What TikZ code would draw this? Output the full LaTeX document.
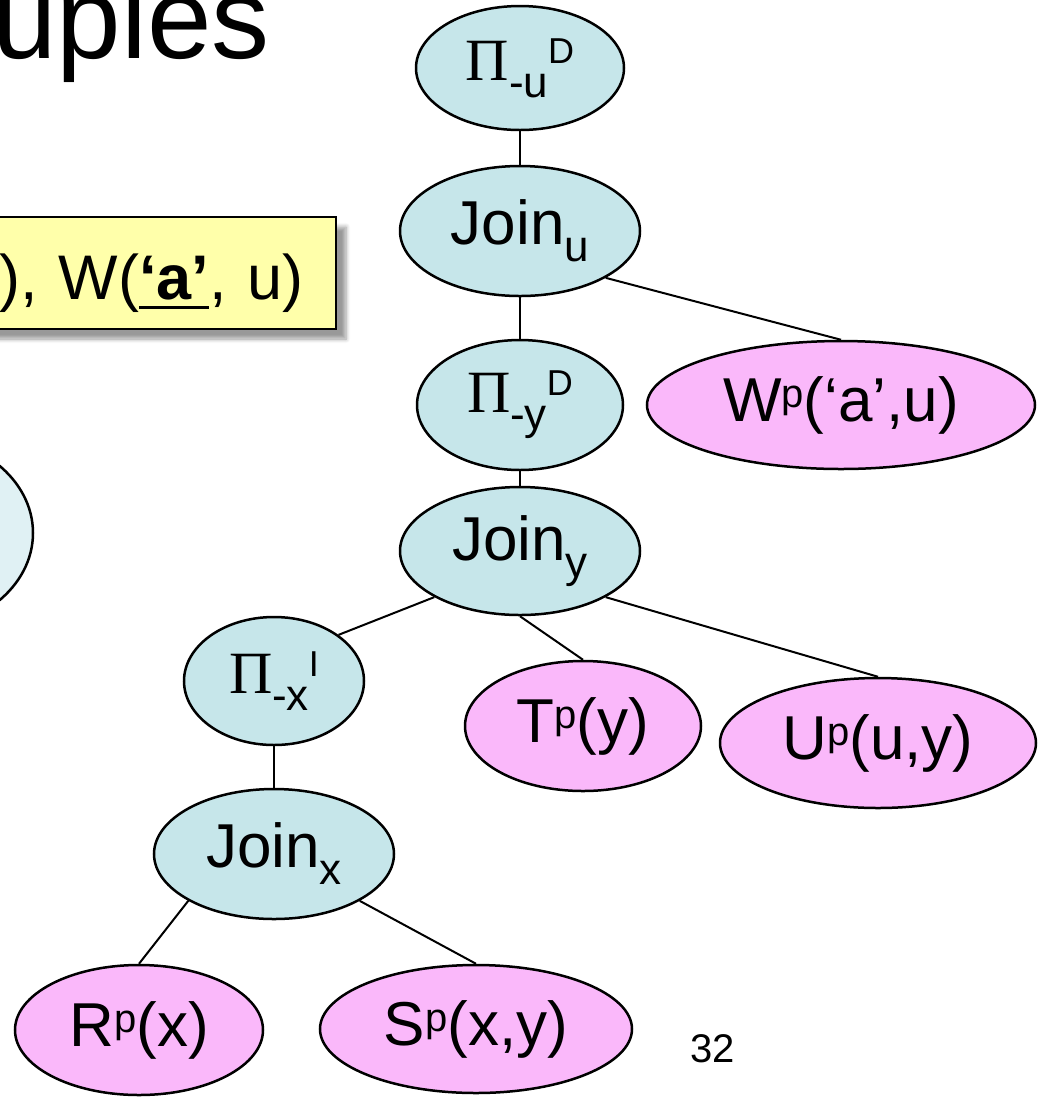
\documentclass[tikz,border=0pt]{standalone}
\usepackage[svgnames]{xcolor}
\usepackage{fontspec}
\setmainfont{Liberation Sans}
\newfontfamily\greekserif{Liberation Serif}
\usepackage{tikz}
\usetikzlibrary{shapes.geometric}
\usetikzlibrary{shadows.blur}
\usetikzlibrary{positioning}
\tikzset{>=stealth}

\definecolor{opblue}{RGB}{198,230,234}
\definecolor{relpink}{RGB}{250,184,250}
\definecolor{paleblue}{RGB}{224,241,244}
\definecolor{noteyellow}{RGB}{255,255,170}

\newcommand{\subtxt}[1]{\raisebox{-8.5pt}{\fontsize{22}{22}\selectfont #1}}
\newcommand{\suptxt}[1]{\raisebox{7pt}{\fontsize{20}{20}\selectfont #1}}
\newcommand{\Proj}[2]{{\greekserif\fontsize{30}{30}\selectfont Π}\subtxt{-#1}\raisebox{8.5pt}{\fontsize{18}{18}\selectfont #2}}
\newcommand{\keyul}[1]{\setbox0\hbox{#1}\rlap{\rule[-5pt]{\wd0}{1.5pt}}\box0}

\begin{document}
\begin{tikzpicture}[
        x=0.5pt, y=-0.5pt,
        every node/.style={inner sep=0pt,font=\fontsize{31}{31}\selectfont},
        op/.style={ellipse,draw,line width=1.25pt,fill=opblue},
        rel/.style={ellipse,draw,line width=1.25pt,fill=relpink},
        notebox/.style={draw,line width=1pt,fill=noteyellow,
            blur shadow={shadow xshift=5pt,shadow yshift=-5pt,shadow blur steps=6,shadow opacity=40}},
        every edge/.style={draw,line width=1pt}
    ]
    \useasboundingbox (0,0) rectangle (1038,1100);

    \node[anchor=base west,font=\fontsize{58}{58}\selectfont] (title) at (-8,58) {uples};

    \node[notebox,anchor=north east,text width=200pt,align=right,
          text height=41pt,text depth=15pt,inner xsep=16pt,
          font=\fontsize{31.5}{31.5}\selectfont] (query) at (337,216)
          {), W(\keyul{\textbf{‘a’}}, u)};

    \node[ellipse,draw,line width=1.25pt,fill=paleblue,
          minimum width=120pt,minimum height=97pt] (prev) at (-87,533) {};

    \node[op,minimum width=104pt,minimum height=62pt] (piu) at (520,68) {\Proj{u}{D}};
    \node[op,minimum width=120pt,minimum height=65pt] (joinu) at (520,231) {Join\subtxt{u}};
    \node[op,minimum width=103pt,minimum height=65pt] (piy) at (520,405) {\Proj{y}{D}};
    \node[rel,minimum width=194pt,minimum height=64pt] (w) at (841,405) {W\suptxt{p}(‘a’,u)};

    \path (piu.south) edge (joinu.north);
    \path (joinu.south) edge (piy.north);
    \path (joinu.south east) edge (w.north);

    \node[op,minimum width=120pt,minimum height=64pt] (joiny) at (520,551) {Join\subtxt{y}};
    \node[op,minimum width=90pt,minimum height=64pt] (pix) at (274,681) {\Proj{x}{I}};
    \node[rel,minimum width=118pt,minimum height=65pt] (t) at (583,726) {T\suptxt{p}(y)};
    \node[rel,minimum width=158pt,minimum height=65pt] (u) at (878,743) {U\suptxt{p}(u,y)};

    \path (piy.south) edge (joiny.north);
    \path (joiny.south west) edge (pix.north east);
    \path (joiny.south) edge (t.north);
    \path (joiny.south east) edge (u.north);

    \node[op,minimum width=120pt,minimum height=65pt] (joinx) at (274,854) {Join\subtxt{x}};
    \node[rel,minimum width=124pt,minimum height=65pt] (r) at (139,1030) {R\suptxt{p}(x)};
    \node[rel,minimum width=156pt,minimum height=64pt] (s) at (476,1029) {S\suptxt{p}(x,y)};

    \path (pix.south) edge (joinx.north);
    \path (joinx.south west) edge (r.north);
    \path (joinx.south east) edge (s.north);

    \node[anchor=base,font=\fontsize{20}{20}\selectfont] (pagenum) at (713,1062) {32};
\end{tikzpicture}
\end{document}
